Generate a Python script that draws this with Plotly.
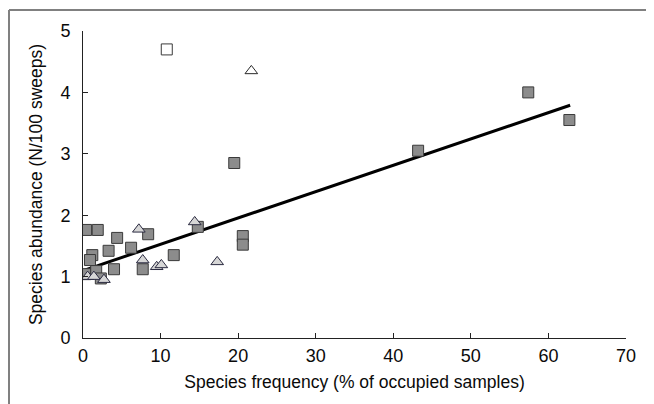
import plotly.graph_objects as go

# Filled grey squares
sq_x = [0.4, 1.9, 4.4, 8.4, 3.3, 6.2, 1.2, 0.9, 4.0, 7.7, 11.7, 14.8, 20.6, 20.6, 19.5, 43.2, 57.4, 62.7, 0.3, 1.7, 2.3]
sq_y = [1.76, 1.76, 1.63, 1.69, 1.42, 1.47, 1.35, 1.27, 1.12, 1.12, 1.35, 1.81, 1.66, 1.52, 2.85, 3.05, 4.0, 3.55, 1.04, 1.09, 0.97]

# Light grey triangles
tri_x = [0.6, 1.4, 2.7, 7.2, 7.7, 9.5, 10.1, 14.4, 17.3]
tri_y = [1.0, 1.0, 0.95, 1.77, 1.27, 1.16, 1.19, 1.89, 1.24]

# Open (outlier) markers
osq_x = [10.8]
osq_y = [4.7]
otri_x = [21.7]
otri_y = [4.35]

# Regression line
fit_x = [0.3, 62.8]
fit_y = [1.11, 3.79]

x_ticks = [0, 10, 20, 30, 40, 50, 60, 70]
y_ticks = [0, 1, 2, 3, 4, 5]

FONT = "Liberation Sans, Arial, sans-serif"

fig = go.Figure()
fig.add_trace(go.Scatter(x=fit_x, y=fit_y, mode="lines",
                         line=dict(color="black", width=3), showlegend=False))
fig.add_trace(go.Scatter(x=sq_x, y=sq_y, mode="markers",
                         marker=dict(symbol="square", size=11, color="#8c8c8c",
                                     line=dict(color="#3a3a3a", width=1)),
                         showlegend=False))
fig.add_trace(go.Scatter(x=tri_x, y=tri_y, mode="markers",
                         marker=dict(symbol="triangle-up", size=11, color="#d6d6d6",
                                     line=dict(color="#2a2a40", width=1)),
                         showlegend=False))
fig.add_trace(go.Scatter(x=osq_x, y=osq_y, mode="markers",
                         marker=dict(symbol="square", size=11, color="white",
                                     line=dict(color="#3a3a3a", width=1)),
                         showlegend=False))
fig.add_trace(go.Scatter(x=otri_x, y=otri_y, mode="markers",
                         marker=dict(symbol="triangle-up", size=11, color="white",
                                     line=dict(color="#2a2a2a", width=1)),
                         showlegend=False))

PW = 543.0
PH = 307.0

fig.update_layout(
    width=654, height=404,
    margin=dict(l=75, r=36, t=23, b=74),
    paper_bgcolor="white", plot_bgcolor="white",
    font=dict(family=FONT, size=18, color="#0a0a0a"),
    xaxis=dict(range=[0, 70], tickvals=x_ticks, ticks="inside", ticklen=5,
               tickcolor="#222", showline=True, linecolor="#222", linewidth=1,
               showgrid=False, zeroline=False, ticklabelstandoff=1,
               tickfont=dict(size=18),
               title=dict(text="Species frequency (% of occupied samples)",
                          standoff=11, font=dict(size=17.5))),
    yaxis=dict(range=[0, 5], tickvals=y_ticks, ticks="inside", ticklen=5,
               tickcolor="#222", showline=True, linecolor="#222", linewidth=1,
               showgrid=False, zeroline=False, ticklabelstandoff=8,
               tickfont=dict(size=18),
               title=dict(text="Species abundance (N/100 sweeps)",
                          standoff=13, font=dict(size=17.5))),
    shapes=[
        dict(type="line", xref="paper", yref="paper", x0=-74/PW, x1=1.2,
             y0=328/PH, y1=328/PH, line=dict(color="#808080", width=2)),
        dict(type="line", xref="paper", yref="paper", x0=-74/PW, x1=-74/PW,
             y0=328/PH, y1=-0.3, line=dict(color="#808080", width=2)),
    ],
)

fig.write_html("out.html")
